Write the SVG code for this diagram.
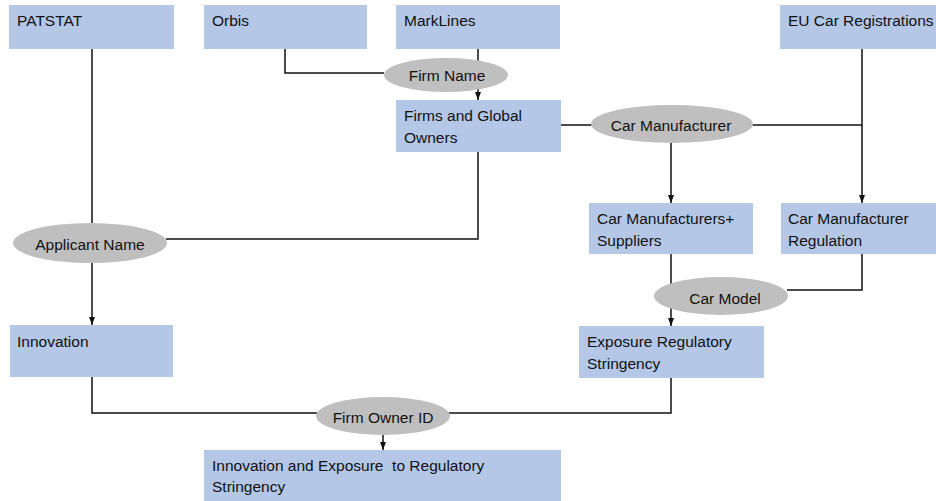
<svg xmlns="http://www.w3.org/2000/svg" width="936" height="501" viewBox="0 0 936 501">
<style>
.box{fill:#b4c7e7;}
.ell{fill:#bfbfbf;}
.t{font-family:"Liberation Sans",Arial,sans-serif;font-size:15.5px;fill:#111;}
.c{text-anchor:middle;}
.ln{fill:none;stroke:#111;stroke-width:1.5;}
</style>
<defs>
<marker id="ar" viewBox="0 0 8 8" refX="8" refY="4" markerWidth="8" markerHeight="8" markerUnits="userSpaceOnUse" orient="auto">
<path d="M0,1 L8,4 L0,7 Z" fill="#111"/>
</marker>
</defs>
<rect width="936" height="501" fill="#fff"/>
<g id="connectors">
<path class="ln" d="M92,49 V223"/>
<path class="ln" d="M92,262 V325" marker-end="url(#ar)"/>
<path class="ln" d="M285,49 V73 H384"/>
<path class="ln" d="M478,49 V100" marker-end="url(#ar)"/>
<path class="ln" d="M478,152 V239 H166"/>
<path class="ln" d="M561,125 H592"/>
<path class="ln" d="M752,125 H862"/>
<path class="ln" d="M862,49 V203" marker-end="url(#ar)"/>
<path class="ln" d="M671,143 V203" marker-end="url(#ar)"/>
<path class="ln" d="M671,254 V326" marker-end="url(#ar)"/>
<path class="ln" d="M862,254 V290 H787"/>
<path class="ln" d="M671,378 V413 H449"/>
<path class="ln" d="M92,377 V413 H317"/>
<path class="ln" d="M383,435 V450" marker-end="url(#ar)"/>
</g>
<g id="patstat"><rect class="box" x="9" y="5" width="165" height="44"/><text class="t" x="17" y="26">PATSTAT</text></g>
<g id="orbis"><rect class="box" x="204" y="5" width="163" height="44"/><text class="t" x="212" y="26">Orbis</text></g>
<g id="marklines"><rect class="box" x="396" y="5" width="164" height="44"/><text class="t" x="404" y="26">MarkLines</text></g>
<g id="eu"><rect class="box" x="780" y="5" width="156" height="44"/><text class="t" x="788" y="26">EU Car Registrations</text></g>
<g id="firmname"><ellipse class="ell" cx="446" cy="75" rx="62" ry="17"/><text class="t c" x="447" y="81">Firm Name</text></g>
<g id="firms"><rect class="box" x="396" y="100" width="165" height="52"/><text class="t" x="404" y="121">Firms and Global</text><text class="t" x="404" y="143">Owners</text></g>
<g id="carmanuf"><ellipse class="ell" cx="672" cy="124" rx="81" ry="19"/><text class="t c" x="671" y="131">Car Manufacturer</text></g>
<g id="suppliers"><rect class="box" x="589" y="203" width="164" height="51"/><text class="t" x="597" y="224">Car Manufacturers+</text><text class="t" x="597" y="246">Suppliers</text></g>
<g id="regulation"><rect class="box" x="781" y="203" width="155" height="51"/><text class="t" x="788" y="224">Car Manufacturer</text><text class="t" x="788" y="246">Regulation</text></g>
<g id="applicant"><ellipse class="ell" cx="90" cy="243" rx="77" ry="20"/><text class="t c" x="90" y="250">Applicant Name</text></g>
<g id="carmodel"><ellipse class="ell" cx="721" cy="296" rx="67" ry="19"/><text class="t c" x="725" y="304">Car Model</text></g>
<g id="innovation"><rect class="box" x="10" y="325" width="163" height="52"/><text class="t" x="17" y="347">Innovation</text></g>
<g id="exposure"><rect class="box" x="579" y="326" width="185" height="52"/><text class="t" x="587" y="347">Exposure Regulatory</text><text class="t" x="587" y="369">Stringency</text></g>
<g id="firmowner"><ellipse class="ell" cx="383" cy="416" rx="67" ry="19"/><text class="t c" x="383" y="423">Firm Owner ID</text></g>
<g id="final"><rect class="box" x="204" y="450" width="357" height="51"/><text class="t" x="212" y="471" xml:space="preserve">Innovation and Exposure  to Regulatory</text><text class="t" x="212" y="492">Stringency</text></g>
</svg>
